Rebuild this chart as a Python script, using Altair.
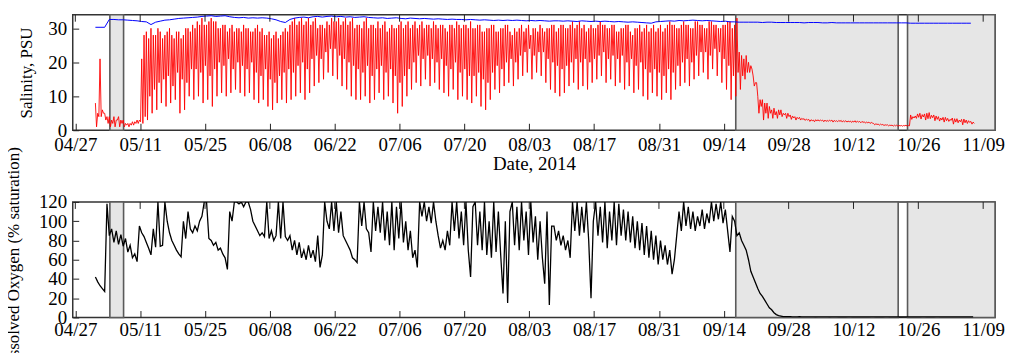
import altair as alt
import pandas as pd

# ---------------- data ----------------
TICK_DATES = ["2014-04-27", "2014-05-11", "2014-05-25", "2014-06-08", "2014-06-22",
              "2014-07-06", "2014-07-20", "2014-08-03", "2014-08-17", "2014-08-31",
              "2014-09-14", "2014-09-28", "2014-10-12", "2014-10-26", "2014-11-09"]

SHADE_START = ["2014-05-04T11:00:00", "2014-09-16T14:00:00", "2014-10-23T16:00:00"]
SHADE_END = ["2014-05-07T10:00:00", "2014-10-21T15:30:00", "2014-11-11T13:26:00"]

SERIES_START = "2014-05-01T08:00:00"   # first sample

# salinity (red), four readings per day (May 1 .. Nov 6): high, deep low, second high, shallow low
SAL_A = [8, 21, 5, 4, 4, 4, 3, 2, 2.5, 3, 21,
         29, 30, 28, 29, 28, 30, 27, 29, 28, 30,
         31, 32, 33, 31, 33, 32, 30, 31, 30, 29,
         30, 31, 30, 29, 31, 30, 28, 27, 29, 28,
         30, 31, 33, 32, 31, 33, 32, 30, 31, 32,
         33, 32, 31, 33, 32, 30, 31, 32, 30, 31,
         32, 31, 29, 31, 30, 32, 31, 30, 32, 31,
         30, 31, 32, 30, 31, 29, 31, 32, 30, 31,
         32, 30, 31, 29, 30, 31, 29, 30, 31, 28,
         29, 31, 30, 28, 30, 31, 29, 30, 31, 30,
         31, 30, 32, 31, 30, 29, 31, 30, 32, 31,
         30, 31, 29, 30, 31, 28, 30, 29, 31, 30,
         29, 31, 30, 32, 31, 30, 32, 31, 30, 32,
         31, 30, 32, 31, 30, 31, 32, 31,
         23, 21, 20, 16, 10, 9, 8, 6, 5.5, 6, 5, 4.5, 4, 3.8, 3.4,
         3.2, 3, 3.1, 3, 2.9, 3, 2.8, 2.9, 2.8, 2.7, 2.8, 2.6, 2.5, 2.4,
         2.0, 1.8, 1.7, 1.6, 1.5, 1.5, 1.4, 1.5,
         4.5, 4.2, 5, 4.8, 5.2, 4.5, 4, 3.8, 3.5, 3.6, 3.4, 3.2, 3.0, 2.6]
SAL_B = [1, 4, 3, 1, 1, 1, 1, 1, 1.5, 2, 2,
         3, 5, 6, 8, 7, 8, 9, 5, 6, 10,
         9, 10, 8, 9, 7, 10, 11, 10, 11, 12,
         11, 10, 11, 9, 8, 9, 7, 6, 8, 9,
         8, 9, 10, 11, 9, 11, 13, 14, 15, 17,
         16, 15, 13, 12, 10, 9, 9, 10, 8, 9,
         11, 9, 10, 8, 5, 7, 10, 12, 14, 13,
         15, 13, 14, 12, 11, 10, 12, 9, 10, 9,
         8, 10, 7, 6, 9, 12, 11, 13, 14, 13,
         15, 16, 17, 15, 17, 16, 14, 12, 11, 10,
         11, 13, 14, 12, 13, 12, 14, 15, 16, 14,
         15, 13, 14, 12, 13, 11, 12, 10, 9, 11,
         10, 9, 11, 9, 12, 13, 14, 13, 15, 16,
         17, 15, 18, 16, 14, 12, 9, 10,
         12, 15, 17, 13, 5, 3, 3.5, 3.5, 3.5, 4, 3.5, 3.2, 3, 3, 2.9,
         2.6, 2.5, 2.7, 2.5, 2.6, 2.4, 2.5, 2.4, 2.4, 2.3, 2.3, 2.2, 2.1, 2.0,
         1.6, 1.5, 1.4, 1.3, 1.2, 1.2, 1.2, 1.2,
         3.2, 3.5, 3.3, 3, 3.4, 2.8, 2.7, 2.4, 2.6, 1.8, 2.2, 1.6, 2.0, 1.8]
SAL_C = [5, 6, 4, 3, 3, 3, 2, 2, 2.5, 3, 28,
         27, 28, 30, 27, 29, 28, 29, 27, 30, 29,
         30, 31, 31, 32, 32, 30, 31, 29, 31, 30,
         29, 30, 29, 30, 29, 28, 29, 28, 27, 29,
         29, 32, 31, 33, 32, 31, 33, 31, 30, 31,
         32, 33, 32, 31, 33, 31, 30, 33, 31, 30,
         30, 32, 30, 30, 31, 30, 32, 31, 30, 32,
         31, 30, 31, 31, 30, 31, 30, 31, 31, 30,
         30, 31, 29, 30, 31, 29, 30, 31, 29, 30,
         30, 29, 31, 30, 29, 30, 30, 31, 29, 31,
         30, 31, 30, 32, 31, 30, 30, 31, 31, 30,
         31, 29, 30, 31, 29, 30, 31, 30, 29, 31,
         30, 29, 31, 31, 30, 31, 31, 30, 32, 31,
         30, 32, 31, 30, 31, 32, 30, 33,
         22, 22, 19, 14, 9, 8, 7, 6.5, 6, 5, 5, 4.2, 3.8, 3.5, 3.3,
         3.1, 3.1, 3, 3, 3, 2.9, 2.9, 2.8, 2.7, 2.7, 2.7, 2.6, 2.4, 2.3,
         1.9, 1.8, 1.6, 1.5, 1.5, 1.4, 1.4, 1.4,
         4, 4.8, 4.6, 5, 4.4, 4.2, 3.6, 3.8, 3.2, 3.4, 3.0, 3.3, 2.8, 2.4]
SAL_D = [4, 5, 2, 2, 3, 2, 1.5, 1.5, 2, 2.5, 4,
         10, 12, 14, 15, 16, 13, 17, 15, 14, 18,
         18, 17, 19, 16, 18, 20, 19, 21, 18, 20,
         19, 18, 20, 17, 16, 18, 15, 14, 16, 17,
         18, 17, 19, 20, 18, 21, 22, 21, 23, 24,
         24, 22, 21, 20, 19, 18, 17, 19, 16, 18,
         19, 17, 18, 16, 14, 16, 18, 20, 22, 21,
         22, 21, 20, 21, 19, 18, 20, 17, 18, 16,
         16, 17, 15, 14, 17, 19, 18, 20, 21, 20,
         22, 23, 24, 22, 23, 23, 21, 20, 19, 18,
         19, 20, 21, 20, 21, 20, 21, 22, 23, 21,
         22, 21, 22, 20, 21, 19, 20, 18, 17, 18,
         17, 16, 18, 17, 19, 20, 21, 20, 22, 23,
         23, 22, 24, 23, 21, 19, 16, 17,
         16, 17, 18, 14, 7, 5, 5, 4.5, 4.5, 4.5, 4, 3.6, 3.4, 3.2, 3,
         2.8, 2.7, 2.8, 2.6, 2.7, 2.6, 2.6, 2.5, 2.5, 2.4, 2.4, 2.3, 2.2, 2.1,
         1.7, 1.6, 1.5, 1.4, 1.3, 1.3, 1.3, 1.3,
         3.6, 3.8, 3.9, 3.4, 3.7, 3.2, 3, 2.8, 2.9, 2.4, 2.5, 2.2, 2.3, 2.0]

# offshore salinity (blue), daily
SAL_OFFSHORE = [30.3, 30.3, 30.3, 32.6, 32.6, 32.5, 32.5, 32.4, 32.3, 32.2,
                32.0, 31.9, 31.1, 31.8, 32.1, 32.4, 32.5, 32.7, 32.9, 33.0,
                33.1, 33.2, 33.3, 33.5, 33.6, 33.7, 33.5, 33.6, 33.7, 33.4,
                33.2, 33.1, 33.2, 33.0, 33.1, 33.0, 33.1, 33.0, 32.8, 32.5,
                32.0, 31.7, 32.6, 33.0, 33.2, 33.3, 33.1, 33.4, 33.5, 33.3,
                33.5, 33.6, 33.4, 33.5, 33.3, 33.4, 33.2, 33.3, 33.4, 33.2,
                33.1, 33.0, 33.1, 32.9, 33.0, 33.1, 32.9, 32.8, 33.0, 32.9,
                32.8, 32.9, 32.8, 32.7, 32.8, 32.7, 32.6, 32.7, 32.6, 32.6,
                32.5, 32.6, 32.5, 32.4, 32.5, 32.4, 32.3, 32.4, 32.3, 32.4,
                32.3, 32.4, 32.3, 32.2, 32.3, 32.2, 32.3, 32.2, 32.1, 32.2,
                32.2, 32.1, 32.2, 32.1, 32.0, 32.2, 32.1, 32.0, 32.1, 32.0,
                32.1, 32.0, 31.9, 32.0, 31.9, 31.8, 31.9, 31.8, 31.7, 31.6,
                31.5, 31.9, 32.0, 32.1, 32.2, 32.1, 32.3, 32.2, 32.3, 32.4,
                32.3, 32.2, 32.3, 32.2, 32.1, 32.0, 32.1, 31.9, 31.9, 31.8,
                31.8, 31.8, 31.8, 31.8, 31.7, 31.8, 31.8, 31.7, 31.7, 31.7,
                31.7, 31.7, 31.7, 31.6, 31.7, 31.7, 31.7, 31.6, 31.6, 31.7,
                31.6, 31.6, 31.6, 31.6, 31.6, 31.6, 31.6, 31.6, 31.6, 31.6,
                31.6, 31.6, 31.6, 31.6, 31.6, 31.6, 31.5, 31.5, 31.5, 31.5,
                31.5, 31.5, 31.5, 31.5, 31.5, 31.5, 31.5, 31.5, 31.5, 31.5]

# dissolved oxygen (% saturation): readings at 08:00 and 20:00 of each day
DO_A = [42, 33, 27, 85, 78, 76, 74, 68, 62, 58,
        88, 78, 65, 73, 74, 120, 88, 75, 66, 100,
        110, 88, 90, 105, 120, 80, 78, 72, 62, 110,
        120, 118, 115, 120, 100, 90, 88, 120, 90, 85,
        82, 84, 85, 80, 78, 70, 75, 70, 85, 65,
        100, 120, 120, 110, 80, 70, 60, 120, 120, 88,
        120, 115, 120, 110, 120, 115, 120, 100, 90, 70,
        120, 120, 115, 120, 85, 80, 90, 120, 120, 110,
        120, 42, 120, 110, 120, 100, 120, 110, 25, 15,
        120, 115, 120, 110, 120, 105, 100, 35, 13, 95,
        90, 85, 80, 120, 120, 115, 120, 20, 120, 115,
        120, 110, 120, 118, 112, 110, 105, 100, 98, 95,
        90, 85, 80, 75, 70, 60, 110, 120, 115, 110,
        105, 112, 108, 120, 118, 120, 112, 68, 100, 88,
        75, 60, 42, 30, 22, 14, 8, 3, 1.5, 1,
        0.8, 0.7, 0.8, 0.6, 0.7, 0.6, 0.7, 0.6, 0.6, 0.7,
        0.6, 0.6, 0.5, 0.6, 0.5, 0.6, 0.5, 0.5, 0.6, 0.5,
        0.5, 0.6, 0.5, 0.5, 0.5, 0.6, 0.5, 0.5, 0.5, 0.6,
        0.5, 0.5, 0.6, 0.5, 0.5, 0.5, 0.6, 0.5, 0.5, 0.5]
DO_B = [37, 30, 118, 92, 90, 86, 82, 75, 66, 95,
        84, 72, 92, 120, 75, 100, 80, 70, 63, 82,
        92, 95, 100, 120, 82, 75, 70, 66, 50, 100,
        120, 120, 120, 112, 95, 85, 84, 82, 80, 120,
        120, 80, 70, 65, 62, 60, 62, 58, 52, 120,
        92, 90, 88, 85, 75, 62, 57, 95, 92, 68,
        90, 88, 80, 75, 70, 82, 78, 70, 62, 52,
        105, 100, 98, 100, 72, 70, 75, 90, 82, 75,
        70, 115, 75, 70, 65, 62, 68, 65, 100, 110,
        75, 70, 80, 65, 78, 60, 62, 110, 95, 80,
        75, 70, 62, 90, 85, 88, 80, 100, 85, 78,
        72, 80, 75, 85, 80, 78, 72, 70, 65, 62,
        60, 55, 60, 55, 45, 85, 90, 95, 92, 90,
        95, 92, 98, 100, 102, 98, 90, 105, 85, 80,
        70, 48, 36, 25, 18, 10, 5, 2, 1, 0.8,
        0.7, 0.6, 0.7, 0.6, 0.6, 0.5, 0.6, 0.6, 0.5, 0.6,
        0.5, 0.5, 0.6, 0.5, 0.5, 0.5, 0.5, 0.6, 0.5, 0.5,
        0.6, 0.5, 0.5, 0.5, 0.6, 0.5, 0.5, 0.5, 0.6, 0.5,
        0.5, 0.6, 0.5, 0.5, 0.5, 0.5, 0.5, 0.6, 0.5, 0.5]


def interleave(*lists):
    out = []
    for vals in zip(*lists):
        out += list(vals)
    return out


sal_vals = interleave(SAL_A, SAL_B, SAL_C, SAL_D)
sal_df = pd.DataFrame({"t": pd.date_range(SERIES_START, periods=len(sal_vals), freq="6h"),
                       "v": sal_vals})
off_df = pd.DataFrame({"t": pd.date_range(SERIES_START, periods=len(SAL_OFFSHORE), freq="D"),
                       "v": SAL_OFFSHORE})
do_vals = interleave(DO_A, DO_B)
do_df = pd.DataFrame({"t": pd.date_range(SERIES_START, periods=len(do_vals), freq="12h"),
                      "v": do_vals})
shade_df = pd.DataFrame({"s": SHADE_START, "e": SHADE_END})
tick_df = pd.DataFrame({"d": TICK_DATES})

# ---------------- chart ----------------
W, H = 926, 116
FONT = "Liberation Serif, Times New Roman, Times, serif"

tick_vals = [alt.DateTime(year=int(d[:4]), month=int(d[5:7]), date=int(d[8:10])) for d in TICK_DATES]
x_scale = alt.Scale(domain=[alt.DateTime(year=2014, month=4, date=26, hours=10, minutes=36),
                            alt.DateTime(year=2014, month=11, date=11, hours=13, minutes=26)],
                    nice=False)


def x_axis(title, label_pad, title_y=46):
    kw = dict(values=tick_vals, format="%m/%d", offset=-7, tickSize=7, domain=False, grid=False,
              labelPadding=label_pad, labelFlush=False, labelOverlap=False)
    if title:
        kw.update(title=title, titleX=W / 2, titleY=title_y, titleBaseline="alphabetic",
                  titleFontSize=19)
    else:
        kw.update(title=None)
    return alt.Axis(**kw)


def y_axis(title, values, title_x):
    return alt.Axis(values=values, title=title, offset=-6, tickSize=6, domain=False, grid=False,
                    labelPadding=6, titleAngle=270, titleX=title_x, titleY=H / 2,
                    titleBaseline="alphabetic", titleLimit=400)


def panel(lines, xax, yax, yscale):
    shade = alt.Chart(shade_df).mark_rect(fill="#e6e6e6", stroke="#5a5a5a", strokeWidth=1.6).encode(
        x=alt.X("s:T", scale=x_scale, axis=xax),
        x2="e:T",
    )
    ticks = alt.Chart(tick_df).mark_rule(color="#222222", strokeWidth=1).encode(
        x=alt.X("d:T", scale=x_scale, axis=xax),
        y=alt.value(0),
        y2=alt.value(7),
    )
    layers = [shade]
    for df, col, sw in lines:
        layers.append(alt.Chart(df).mark_line(color=col, strokeWidth=sw, clip=True).encode(
            x=alt.X("t:T", scale=x_scale, axis=xax),
            y=alt.Y("v:Q", scale=yscale, axis=yax),
        ))
    layers.append(ticks)
    return alt.layer(*layers).properties(width=W, height=H)


sal_y = alt.Scale(domain=[0, 34], nice=False, zero=True)
do_y = alt.Scale(domain=[0, 120], nice=False, zero=True)

top = panel([(sal_df, "#ff0000", 0.9), (off_df, "#0000ff", 1)],
            x_axis("Date, 2014", 5),
            y_axis("Salinity, PSU", [0, 10, 20, 30], -47),
            sal_y)
bottom = panel([(do_df, "#000000", 1.3)],
               x_axis(None, 3),
               y_axis("Dissolved Oxygen (% saturation)", [0, 20, 40, 60, 80, 100, 120], -60.5),
               do_y)

chart = alt.vconcat(top, bottom, spacing=72, bounds="flush").properties(
    padding={"left": -5, "top": 4, "right": 0, "bottom": 0}
).configure(
    font=FONT
).configure_view(
    stroke="#333333", strokeWidth=1.5
).configure_axis(
    labelFont=FONT, labelFontSize=19, labelColor="#000000",
    titleFont=FONT, titleFontSize=17, titleFontWeight="normal", titleColor="#000000",
    tickColor="#222222", tickWidth=1,
)

chart.save("out.html", embed_options={"renderer": "svg", "actions": False})
